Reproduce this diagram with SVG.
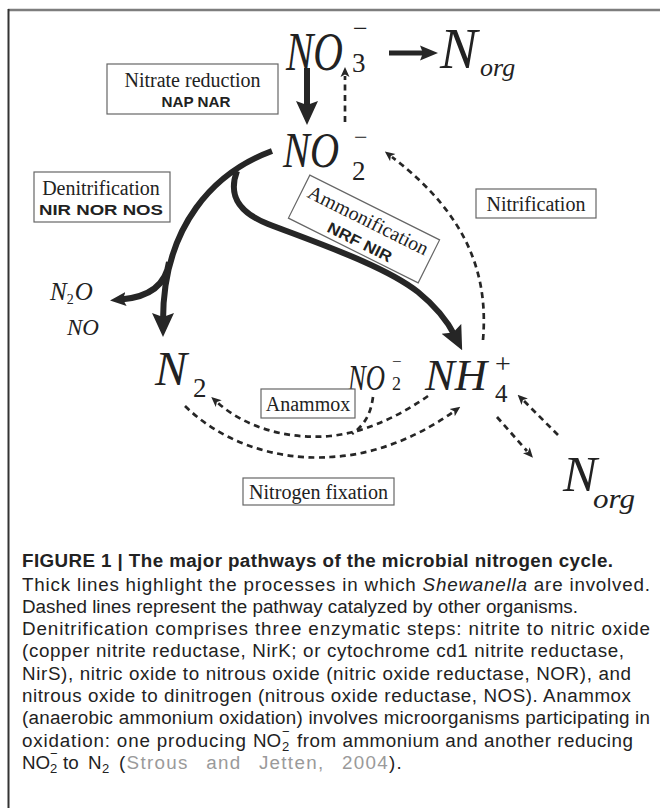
<svg xmlns="http://www.w3.org/2000/svg" width="660" height="808" viewBox="0 0 660 808">
<style>
.f{font-family:"Liberation Serif","Times New Roman",serif;fill:#222}
.it{font-style:italic}
.up{font-style:normal}
.lab{font-family:"Liberation Serif","Times New Roman",serif;font-size:20px;fill:#222;text-anchor:middle}
.enz{font-family:"Liberation Sans",Arial,sans-serif;font-weight:bold;font-size:15.5px;fill:#222;text-anchor:middle}
.box{fill:#fff;stroke:#666;stroke-width:1.2}
.thick{fill:none;stroke:#262626;stroke-width:6}
.dash{fill:none;stroke:#262626;stroke-width:2.7;stroke-dasharray:6 4.5}
.cap{font-family:"Liberation Sans",Arial,sans-serif;font-size:18.8px;fill:#222}
.cite{fill:#9a9a9a}
</style>
<defs>
<marker id="big" viewBox="0 0 24 24" refX="8" refY="12" markerWidth="24" markerHeight="24" orient="auto" markerUnits="userSpaceOnUse"><path d="M0,1 L24,12 L0,23 L4,12 Z" fill="#262626"/></marker>
<marker id="mid" viewBox="0 0 18 16" refX="6" refY="8" markerWidth="18" markerHeight="16" orient="auto" markerUnits="userSpaceOnUse"><path d="M0,0.5 L18,8 L0,15.5 L3,8 Z" fill="#262626"/></marker>
<marker id="small" viewBox="0 0 16 15" refX="5" refY="7.5" markerWidth="16" markerHeight="15" orient="auto" markerUnits="userSpaceOnUse"><path d="M0,0.5 L16,7.5 L0,14.5 L3,7.5 Z" fill="#262626"/></marker>
<marker id="dh" viewBox="0 0 10 10" refX="1" refY="5" markerWidth="10" markerHeight="10" orient="auto" markerUnits="userSpaceOnUse"><path d="M0,0.5 L10,5 L0,9.5 L2.5,5 Z" fill="#262626"/></marker>
</defs>
<rect width="660" height="808" fill="#fff"/>
<g id="frame">
<line x1="8" y1="10" x2="660" y2="10" stroke="#7d7d7d" stroke-width="2.5"/>
<line x1="8.5" y1="9" x2="8.5" y2="808" stroke="#333" stroke-width="2"/>
</g>

<g id="connectors">
<path class="thick" d="M307 68 V109" marker-end="url(#big)"/>
<path class="dash" d="M345 122 V76" marker-end="url(#dh)"/>
<path fill="none" stroke="#262626" stroke-width="5" d="M389 53 H426" marker-end="url(#mid)"/>
<path class="thick" d="M272 151 C215 172 163 225 163 321" marker-end="url(#big)"/>
<path class="thick" stroke-width="5" d="M169 262 C166 285 150 297 121 299.5" marker-end="url(#small)"/>
<path class="thick" d="M237 171 C228 195 238 212 268 224 C320 244 385 266 418 292 C434 305 447 320 455 336" marker-end="url(#big)"/>
<path class="dash" d="M483 340 C488 280 472 218 392 157" marker-end="url(#dh)"/>
<path class="dash" d="M428 396 C405 412 370 432 330 436 C285 440 244 426 218 403" marker-end="url(#dh)"/>
<path class="dash" d="M373 397 C371 412 366 424 352 434"/>
<path class="dash" d="M185 406 C230 450 290 460 330 457 C380 455 425 432 453 412" marker-end="url(#dh)"/>
<path class="dash" d="M497 417 L527 451" marker-end="url(#dh)"/>
<path class="dash" d="M558 435 L524 401" marker-end="url(#dh)"/>
</g>

<g id="no3">
<text class="f it" x="286" y="70" font-size="54"><tspan textLength="57" lengthAdjust="spacingAndGlyphs">NO</tspan><tspan class="up" x="353" y="37" font-size="26">−</tspan><tspan class="up" x="352" y="72" font-size="27">3</tspan></text>
</g>
<g id="norg-top">
<text class="f it" x="440" y="68" font-size="56">N<tspan x="480" y="76" font-size="26">org</tspan></text>
</g>
<g id="no2">
<text class="f it" x="283" y="167" font-size="50"><tspan textLength="56" lengthAdjust="spacingAndGlyphs">NO</tspan><tspan class="up" x="354" y="145" font-size="24">−</tspan><tspan class="up" x="352" y="180" font-size="27">2</tspan></text>
</g>
<g id="n2">
<text class="f it" x="155" y="385" font-size="48">N<tspan class="up" x="193" y="397" font-size="27">2</tspan></text>
</g>
<g id="nh4">
<text class="f it" x="425" y="390" font-size="45"><tspan textLength="62" lengthAdjust="spacingAndGlyphs">NH</tspan><tspan class="up" x="495" y="373" font-size="28">+</tspan><tspan class="up" x="495" y="402" font-size="25">4</tspan></text>
</g>
<g id="no2-anammox">
<text class="f it" x="348" y="390" font-size="36"><tspan textLength="37" lengthAdjust="spacingAndGlyphs">NO</tspan><tspan class="up" x="392" y="367" font-size="17">−</tspan><tspan class="up" x="392" y="390" font-size="18">2</tspan></text>
</g>
<g id="norg-bottom">
<text class="f it" x="563" y="491" font-size="51">N<tspan x="593" y="508" font-size="28" textLength="42" lengthAdjust="spacingAndGlyphs">org</tspan></text>
</g>
<g id="n2o">
<text class="f it" x="50" y="300" font-size="25">N<tspan class="up" font-size="14" dy="4">2</tspan><tspan dy="-4" dx="1">O</tspan></text>
</g>
<g id="no">
<text class="f it" x="67" y="335" font-size="23">NO</text>
</g>

<g id="box-nitrate-reduction">
<rect class="box" x="107" y="64" width="171" height="50"/>
<text class="lab" x="192.5" y="87">Nitrate reduction</text>
<text class="enz" x="196" y="107" textLength="69" lengthAdjust="spacingAndGlyphs">NAP NAR</text>
</g>
<g id="box-denitrification">
<rect class="box" x="34" y="172" width="136" height="50"/>
<text class="lab" x="101" y="195">Denitrification</text>
<text class="enz" x="101" y="215" textLength="124" lengthAdjust="spacingAndGlyphs">NIR NOR NOS</text>
</g>
<g id="box-ammonification" transform="translate(364 229) rotate(26.5)">
<rect class="box" x="-72.5" y="-24" width="145" height="48"/>
<text class="lab" x="0" y="-3">Ammonification</text>
<text class="enz" x="2" y="19" textLength="70" lengthAdjust="spacingAndGlyphs">NRF NIR</text>
</g>
<g id="box-nitrification">
<rect class="box" x="476" y="189" width="120" height="29"/>
<text class="lab" x="536" y="211">Nitrification</text>
</g>
<g id="box-anammox">
<rect class="box" x="261" y="389" width="94" height="29"/>
<text class="lab" x="308" y="411">Anammox</text>
</g>
<g id="box-nitrogen-fixation">
<rect class="box" x="243" y="478" width="151" height="27"/>
<text class="lab" x="318.5" y="499" textLength="139" lengthAdjust="spacingAndGlyphs">Nitrogen fixation</text>
</g>

<g id="caption" class="cap">
<text x="22" y="567" font-weight="bold" textLength="591" lengthAdjust="spacing">FIGURE 1 | The major pathways of the microbial nitrogen cycle.</text>
<text x="22" y="591" textLength="628" lengthAdjust="spacing">Thick lines highlight the processes in which <tspan font-style="italic">Shewanella</tspan> are involved.</text>
<text x="22" y="613" textLength="556" lengthAdjust="spacing">Dashed lines represent the pathway catalyzed by other organisms.</text>
<text x="22" y="635" textLength="628" lengthAdjust="spacing">Denitrification comprises three enzymatic steps: nitrite to nitric oxide</text>
<text x="22" y="657" textLength="602" lengthAdjust="spacing">(copper nitrite reductase, NirK; or cytochrome cd1 nitrite reductase,</text>
<text x="22" y="680" textLength="609" lengthAdjust="spacing">NirS), nitric oxide to nitrous oxide (nitric oxide reductase, NOR), and</text>
<text x="22" y="702" textLength="609" lengthAdjust="spacing">nitrous oxide to dinitrogen (nitrous oxide reductase, NOS). Anammox</text>
<text x="22" y="724" textLength="628" lengthAdjust="spacing">(anaerobic ammonium oxidation) involves microorganisms participating in</text>
<text x="22" y="747" textLength="224" lengthAdjust="spacing">oxidation: one producing</text>
<text x="253" y="747">NO<tspan x="282" y="751" font-size="13">2</tspan><tspan x="282" y="736" font-size="13">−</tspan></text>
<text x="297" y="747" textLength="336" lengthAdjust="spacing">from ammonium and another reducing</text>
<text x="22" y="769">NO<tspan x="50" y="773" font-size="13">2</tspan><tspan x="50" y="758" font-size="13">−</tspan><tspan x="63" y="769">to</tspan><tspan x="88" y="769">N</tspan><tspan x="102" y="773" font-size="13">2</tspan></text>
<text x="119" y="769" word-spacing="11" letter-spacing="1.3">(<tspan class="cite">Strous and Jetten, 2004</tspan>).</text>
</g>
</svg>
